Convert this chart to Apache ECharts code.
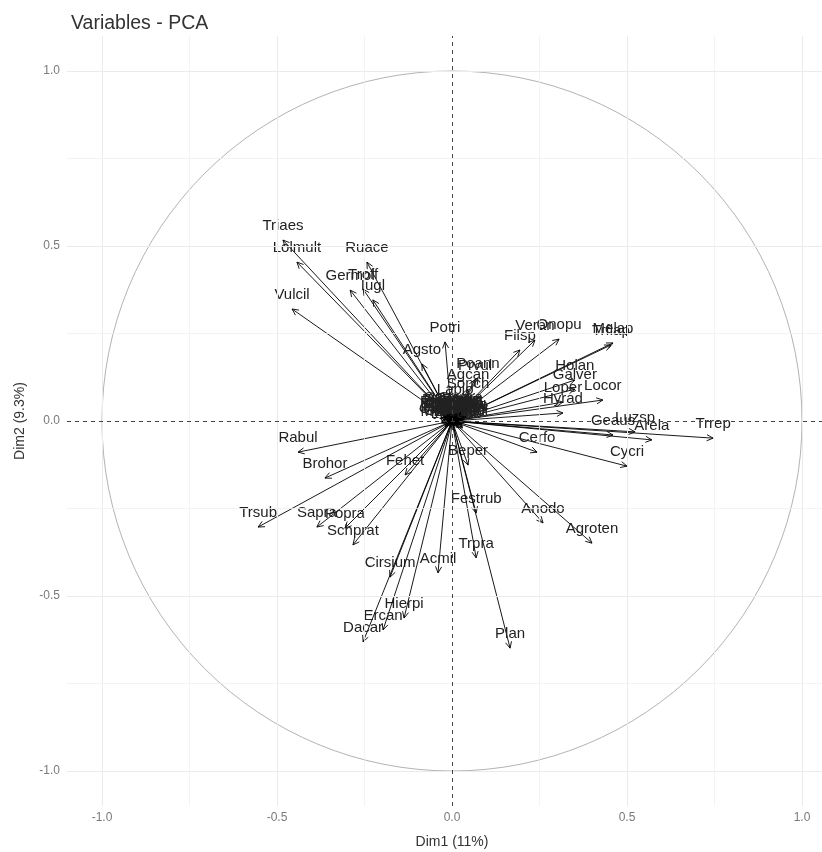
<!DOCTYPE html>
<html>
<head>
<meta charset="utf-8">
<script src="https://cdn.jsdelivr.net/npm/echarts@6/dist/echarts.min.js"></script>
<style>
html,body{margin:0;padding:0;background:#fff;}
#chart{width:822px;height:852px;}
</style>
</head>
<body>
<div id="chart"></div>
<script>
// ---- data ----
const varNames = ["Triaes","Lolmult","Ruace","Germol","Troff","Iugl","Vulcil","Agsto","Potri",
  "Filsp","Veran","Onopu","Melap","Trflap","Poann","Prvul","Agcan","Sonch","Lapio",
  "Holan","Galver","Locor","Loper","Hyrad","Trrep","Arela","Luzsp","Geaus","Cycri","Cerfo",
  "Beper","Festrub","Anodo","Agroten","Trpra","Acmil","Plan","Rabul","Brohor","Fehet",
  "Trsub","Sapra","Popra","Schprat","Cirsium","Hierpi","Ercan","Dacar"];
const dim1 = [-0.483,-0.443,-0.243,-0.291,-0.254,-0.226,-0.457,-0.086,-0.020,
  0.194,0.237,0.306,0.460,0.454,0.074,0.066,0.046,0.046,0.009,
  0.351,0.351,0.431,0.317,0.317,0.746,0.571,0.523,0.460,0.500,0.243,
  0.046,0.069,0.260,0.400,0.069,-0.040,0.166,-0.440,-0.363,-0.134,
  -0.554,-0.386,-0.306,-0.283,-0.177,-0.137,-0.197,-0.254];
const dim2 = [0.517,0.454,0.454,0.374,0.377,0.346,0.320,0.163,0.226,
  0.203,0.231,0.234,0.223,0.217,0.123,0.118,0.091,0.066,0.049,
  0.117,0.091,0.060,0.054,0.023,-0.049,-0.054,-0.031,-0.040,-0.129,-0.089,
  -0.126,-0.263,-0.291,-0.349,-0.391,-0.434,-0.649,-0.089,-0.163,-0.154,
  -0.303,-0.303,-0.306,-0.354,-0.446,-0.563,-0.597,-0.631];
// variables with very small loadings (cluster at the origin)
const smallNames = ["Alopra","Antsyl","Brimed","Carcar","Cenjac","Crecap","Dacglo","Elyrep",
  "Equarv","Erocic","Galmol","Glehed","Hypper","Junbuf","Knaarv","Leoaut","Luzcam","Medara",
  "Myoarv","Phlpra","Ranacr","Rhimin","Rumobt","Sagpro","Senjac","Stegra","Taroff","Trdub",
  "Verarv","Viccra","Bripm","Carfl","Holmol","Plmaj"];
const smallDim1 = [0.010,-0.020,0.030,-0.030,0.020,-0.010,0.035,-0.025,0.015,0.030,-0.015,0.025,
  0.000,-0.030,0.035,0.005,-0.005,0.020,-0.020,0.030,0.010,-0.025,0.030,-0.010,0.015,0.025,
  -0.030,0.030,0.005,-0.005,-0.035,0.040,-0.015,0.012];
const smallDim2 = [0.005,0.010,0.000,-0.005,0.015,-0.010,0.005,0.020,-0.015,0.020,0.000,-0.010,
  0.020,0.000,-0.005,-0.020,0.010,0.005,-0.015,0.010,-0.005,0.015,-0.015,0.025,0.020,0.025,
  0.010,-0.020,0.015,-0.005,0.008,0.012,0.018,-0.008];
const majorTicks = [-1.0,-0.5,0.0,0.5,1.0];
const minorTicks = [-0.75,-0.25,0.25,0.75];
const titleText = "Variables - PCA";
const xName = "Dim1 (11%)";
const yName = "Dim2 (9.3%)";

// ---- build ----
const allData = [];
varNames.forEach((n,i)=>allData.push([dim1[i],dim2[i],n]));
smallNames.forEach((n,i)=>allData.push([smallDim1[i],smallDim2[i],n]));

const FONT = 'Liberation Sans, Arial, sans-serif';
const gridLines = [];
majorTicks.forEach(v=>{
  if (v!==0){
    gridLines.push({xAxis:v, lineStyle:{color:'#ebebeb',width:1,type:'solid'}});
    gridLines.push({yAxis:v, lineStyle:{color:'#ebebeb',width:1,type:'solid'}});
  }
});
minorTicks.forEach(v=>{
  gridLines.push({xAxis:v, lineStyle:{color:'#f0f0f0',width:0.8,type:'solid'}});
  gridLines.push({yAxis:v, lineStyle:{color:'#f0f0f0',width:0.8,type:'solid'}});
});
const zeroLines = [
  {xAxis:0, lineStyle:{color:'#444',width:1,type:[4,4]}},
  {yAxis:0, lineStyle:{color:'#444',width:1,type:[4,4]}}
];

const chart = echarts.init(document.getElementById('chart'), null, {renderer:'canvas'});
chart.setOption({
  backgroundColor:'#fff',
  animation:false,
  title:{text:titleText,left:66,top:9,textStyle:{fontFamily:FONT,fontSize:19.5,fontWeight:'normal',color:'#333'}},
  grid:{left:67,top:36,width:770,height:770,containLabel:false,outerBoundsMode:'none'},
  xAxis:{type:'value',min:-1.1,max:1.1,
    name:xName,nameLocation:'middle',nameGap:29,
    nameTextStyle:{fontFamily:FONT,fontSize:14,color:'#333'},
    axisLine:{show:false},
    axisTick:{show:true,length:4,customValues:majorTicks,lineStyle:{color:'#555'}},
    axisLabel:{customValues:majorTicks,margin:6,fontFamily:FONT,fontSize:12,color:'#7a7a7a',
      formatter:v=>Number(v).toFixed(1)},
    splitLine:{show:false}},
  yAxis:{type:'value',min:-1.1,max:1.1,
    name:yName,nameLocation:'middle',nameGap:40,nameRotate:90,
    nameTextStyle:{fontFamily:FONT,fontSize:14,color:'#333'},
    axisLine:{show:false},
    axisTick:{show:true,length:4,customValues:majorTicks,lineStyle:{color:'#555'}},
    axisLabel:{customValues:majorTicks,margin:7,fontFamily:FONT,fontSize:12,color:'#7a7a7a',
      formatter:v=>Number(v).toFixed(1)},
    splitLine:{show:false}},
  series:[
    {type:'line',data:[],silent:true,z:1,
      markLine:{silent:true,symbol:['none','none'],label:{show:false},animation:false,data:gridLines}},
    {type:'custom',silent:true,z:2,data:[[0,0]],
      renderItem:function(params,api){
        const c = api.coord([0,0]);
        const r = api.coord([1,0])[0]-c[0];
        return {type:'circle',shape:{cx:c[0],cy:c[1],r:r},style:{fill:null,stroke:'#a0a0a0',lineWidth:0.8}};
      }},
    {type:'line',data:[],silent:true,z:3,
      markLine:{silent:true,symbol:['none','none'],label:{show:false},animation:false,data:zeroLines}},
    {type:'custom',silent:true,z:4,data:allData,
      renderItem:function(params,api){
        const o = api.coord([0,0]);
        const p = api.coord([api.value(0),api.value(1)]);
        const a = Math.atan2(p[1]-o[1],p[0]-o[0]);
        const L = 7, h = 0.45;
        const p1 = [p[0]-L*Math.cos(a-h), p[1]-L*Math.sin(a-h)];
        const p2 = [p[0]-L*Math.cos(a+h), p[1]-L*Math.sin(a+h)];
        const name = allData[params.dataIndex][2];
        return {type:'group',children:[
          {type:'line',shape:{x1:o[0],y1:o[1],x2:p[0],y2:p[1]},style:{stroke:'#000',lineWidth:0.9}},
          {type:'polyline',shape:{points:[p1,p,p2]},style:{stroke:'#000',lineWidth:0.9,fill:null}},
          {type:'text',x:p[0],y:p[1]-14,style:{text:name,textAlign:'center',textVerticalAlign:'middle',
            font:'15px '+FONT,fill:'#222'}}
        ]};
      }}
  ]
});
</script>
</body>
</html>
